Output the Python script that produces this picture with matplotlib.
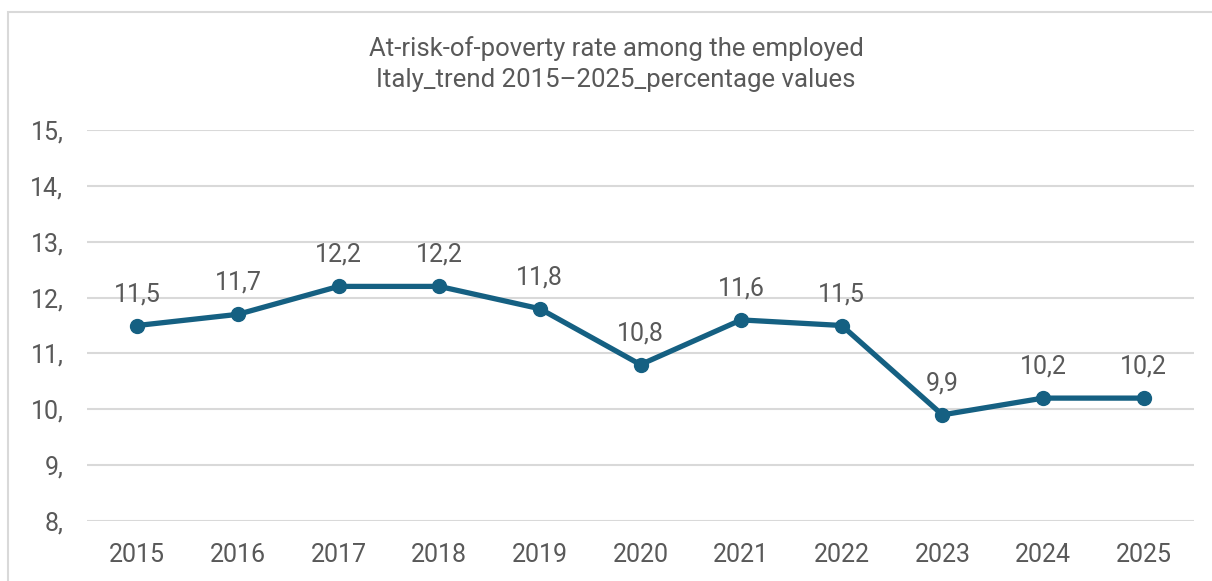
import matplotlib.pyplot as plt
from matplotlib.patches import Rectangle

years = ["2015", "2016", "2017", "2018", "2019", "2020", "2021", "2022", "2023", "2024", "2025"]
rate = [11.5, 11.7, 12.2, 12.2, 11.8, 10.8, 11.6, 11.5, 9.9, 10.2, 10.2]
yticks = [8, 9, 10, 11, 12, 13, 14, 15]

title = "At-risk-of-poverty rate among the employed\nItaly_trend 2015\u20132025_percentage values"

line_color = "#156082"
text_color = "#595959"
grid_color = "#d9d9d9"

plt.rcParams["font.family"] = ["Roboto", "DejaVu Sans"]

fig = plt.figure(figsize=(12.12, 5.81), dpi=100)
fig.patches.append(Rectangle((8 / 1212, -0.1), 1.2, 1 - 11.5 / 581 + 0.1,
                             transform=fig.transFigure, fill=False,
                             edgecolor=grid_color, linewidth=1.5))

ax = fig.add_axes([87 / 1212, 60 / 581, 1107 / 1212, 391 / 581])
x = list(range(len(years)))
ax.plot(x, rate, color=line_color, linewidth=3.8, marker="o", markersize=10)

for xi, v in zip(x, rate):
    ax.annotate(f"{v:.1f}".replace(".", ","), (xi, v), xytext=(0, 14),
                textcoords="offset points", ha="center", va="bottom",
                fontsize=18, color=text_color)

ax.set_xlim(-0.5, len(years) - 0.5)
ax.set_ylim(8, 15)
ax.set_yticks(yticks)
ax.set_yticklabels([f"{t}," for t in yticks])
ax.set_xticks(x)
ax.set_xticklabels(years)
ax.tick_params(axis="both", length=0, labelsize=18, labelcolor=text_color)
ax.tick_params(axis="y", pad=17)
ax.tick_params(axis="x", pad=16)
ax.grid(axis="y", color=grid_color, linewidth=1.5)
ax.set_axisbelow(True)
for s in ax.spines.values():
    s.set_visible(False)

fig.text(616 / 1212, 1 - 64 / 581, title, ha="center", va="center",
         fontsize=18.5, color=text_color, linespacing=1.35)

fig.savefig("out.png", dpi=100)
